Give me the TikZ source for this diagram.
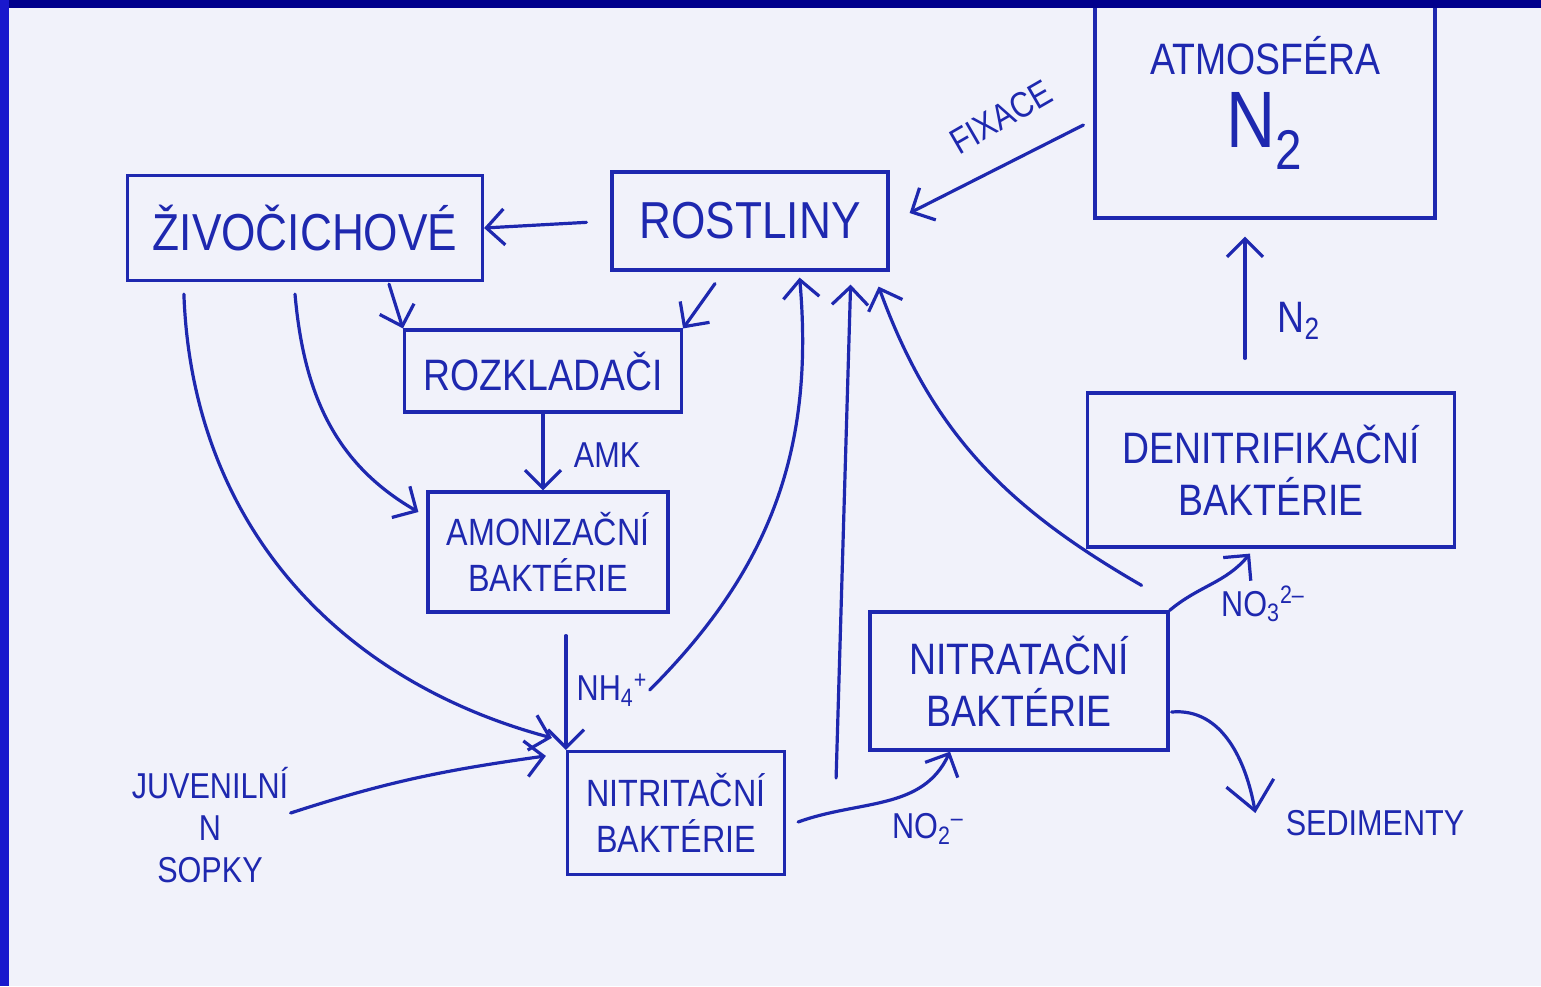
\documentclass[tikz,border=0pt]{standalone}
\usepackage{fontspec}
\setmainfont{Liberation Sans}[FakeStretch=0.85]
\usetikzlibrary{arrows.meta}

\definecolor{ink}{RGB}{30,40,175}
\definecolor{paper}{RGB}{241,242,250}
\definecolor{frametop}{RGB}{0,0,140}
\definecolor{frameleft}{RGB}{25,25,205}

\newcommand{\boxfont}{\fontsize{22}{26}\selectfont}
\newcommand{\bigboxfont}{\fontsize{26}{30}\selectfont}
\newcommand{\smallboxfont}{\fontsize{19}{23}\selectfont}
\newcommand{\labfont}{\fontsize{18}{21}\selectfont}
\newcommand{\hugefont}{\fontsize{40}{44}\selectfont}
\newcommand{\ion}[2]{\textsubscript{#1}\textsuperscript{#2}}

\tikzstyle{block} = [rectangle, draw=ink, line width=1.6pt, text=ink, align=center, font=\boxfont, inner sep=2pt]
\tikzstyle{lbl} = [text=ink, font=\labfont, align=center, inner sep=1pt]
\tikzstyle{arr} = [draw=ink, line width=1.6pt, line cap=round, -{Straight Barb[length=9pt,width=18pt]}]
\tikzstyle{bigtip} = [-{Straight Barb[length=14pt,width=24pt]}]

\begin{document}
\begin{tikzpicture}[x=0.5pt, y=-0.5pt, node distance=100pt, auto]
	\useasboundingbox (0,0) rectangle (1541,986);
	\fill [paper] (0,0) rectangle (1541,986);

	% Boxes
	\node [block, minimum width=138pt, minimum height=49pt, font=\bigboxfont] (rost) at (750,221) {ROSTLINY};
	\node [block, left of=rost, node distance=222.5pt, yshift=-3.5pt, minimum width=177.5pt, minimum height=52.5pt, font=\bigboxfont] (ziv) {ŽIVOČICHOVÉ};
	\node [block, right of=rost, node distance=257.5pt, yshift=59pt, minimum width=170pt, minimum height=115pt] (atm) {ATMOSFÉRA\\[8pt]{\hugefont N\textsubscript{2}}};
	\node [block, below of=atm, node distance=183.5pt, xshift=3pt, minimum width=183.5pt, minimum height=77pt] (deni) {DENITRIFIKAČNÍ\\BAKTÉRIE};
	\node [block, below of=rost, node distance=75pt, xshift=-103.5pt, minimum width=138.5pt, minimum height=41pt] (rozk) {ROZKLADAČI};
	\node [block, below of=rozk, node distance=90.5pt, xshift=2.5pt, minimum width=120pt, minimum height=60pt, font=\smallboxfont] (amon) {AMONIZAČNÍ\\BAKTÉRIE};
	\node [block, below of=amon, node distance=130.5pt, xshift=64pt, minimum width=108.5pt, minimum height=61.5pt, font=\smallboxfont] (nitri) {NITRITAČNÍ\\BAKTÉRIE};
	\node [block, right of=nitri, node distance=171.5pt, yshift=66pt, minimum width=149pt, minimum height=69pt] (nitra) {NITRATAČNÍ\\BAKTÉRIE};

	% Labels
	\node [lbl, below of=rozk, node distance=42pt, xshift=32pt] (amk) {AMK};
	\node [lbl, below of=amon, node distance=69pt, xshift=32pt] (nh4) {NH\ion{4}{+}};
	\node [lbl, left of=nitri, node distance=233pt, yshift=-6pt] (juv) {JUVENILNÍ\\N\\SOPKY};
	\node [lbl, right of=nitri, node distance=126pt, yshift=-8pt] (no2) {NO\ion{2}{--}};
	\node [lbl, below of=deni, node distance=67pt, xshift=-4pt] (no3) {NO\ion{3}{2--}};
	\node [lbl, right of=nitra, node distance=178pt, yshift=-71pt] (sed) {SEDIMENTY};
	\node [lbl, below of=atm, node distance=109pt, xshift=17pt, font=\boxfont] (n2) {N\textsubscript{2}};
	\node [lbl, left of=atm, node distance=132pt, yshift=-7pt, rotate=30] (fix) {FIXACE};
	\coordinate (nit) at ([shift={(25pt,17.5pt)}]nitri.east);

	% Arrows
	\draw [arr, shorten <=12pt] (rost.west) -- (ziv.east);
	\draw [arr] ([shift={(-5pt,-11pt)}]atm.west) -- ([shift={(10pt,4pt)}]rost.east);
	\draw [arr] ([shift={(-13pt,16.5pt)}]deni.north) -- ([shift={(-10pt,-8.5pt)}]atm.south);
	\draw [arr] ([shift={(42pt,-1pt)}]ziv.south) -- (rozk.north west);
	\draw [arr] ([shift={(-17.5pt,-6pt)}]rost.south) -- (rozk.north east);
	\draw [arr] (rozk.south) -- (rozk.south |- amon.north);
	\draw [arr] ([shift={(-5pt,-6pt)}]ziv.south) to [out=-85, in=150] ([shift={(-4pt,20pt)}]amon.west);
	\draw [arr] ([shift={(29pt,-6pt)}]ziv.south west) to [out=-88, in=165] ([shift={(-7pt,6pt)}]nitri.north west);
	\draw [arr, shorten <=11pt] (nitri.north west |- amon.south) -- (nitri.north west);
	\draw [arr] (nh4.east) to [out=45, in=-85] ([shift={(-45pt,-3pt)}]rost.south east);
	\draw [arr] ([shift={(6pt,-4.5pt)}]nitri.east) to [out=20, in=-115] ([xshift=-34.5pt]nitra.south);
	\draw [arr] (nit) -- ([shift={(-19.5pt,-6.5pt)}]rost.south east);
	\draw [arr] ([shift={(-14pt,12.5pt)}]nitra.north east) to [out=150, in=-70] ([shift={(-5.5pt,-7.5pt)}]rost.south east);
	\draw [arr] (nitra.north east) to [out=40, in=-130] ([shift={(-10.5pt,-2.5pt)}]deni.south);
	\draw [arr, bigtip] ([shift={(1pt,-15.5pt)}]nitra.east) to [out=5, in=100] ([shift={(-14pt,5pt)}]sed.west);
	\draw [arr] ([yshift=6pt]juv.east) to [out=18, in=-172] ([shift={(-10pt,-3pt)}]nitri.north west);

	% Frame
	\fill [frametop] (0,0) rectangle (1541,8);
	\fill [frameleft] (0,0) rectangle (9,986);
\end{tikzpicture}
\end{document}
